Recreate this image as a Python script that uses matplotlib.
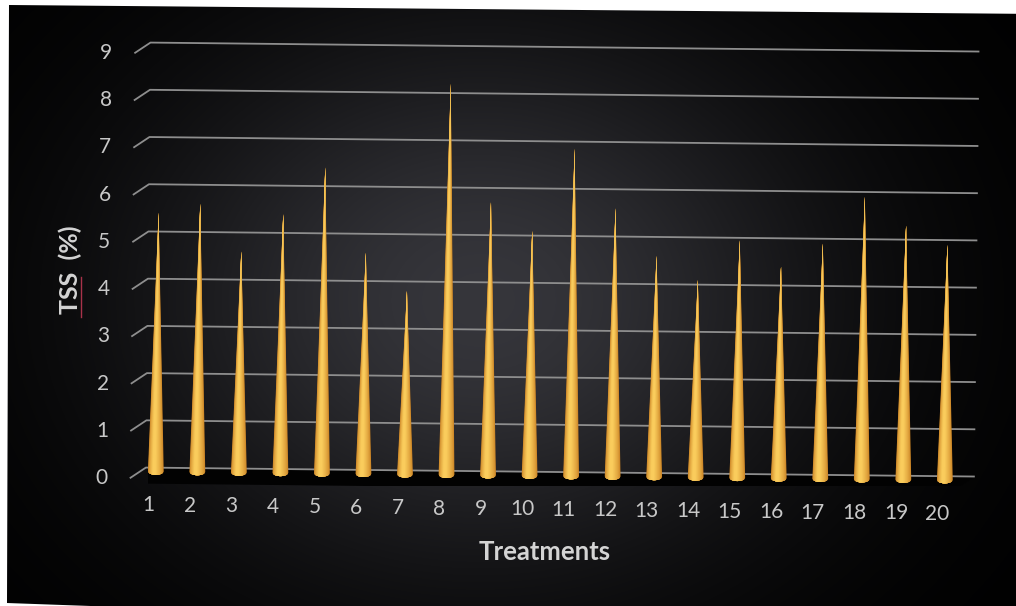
import numpy as np
import matplotlib.pyplot as plt
from matplotlib.patches import Polygon
from matplotlib.transforms import Affine2D

plt.rcParams['font.family'] = ['Lato', 'DejaVu Sans']

# data
treatments = list(range(1, 21))
tss = [5.4, 5.6, 4.6, 5.4, 6.4, 4.6, 3.8, 8.2, 5.7, 5.1,
       6.85, 5.6, 4.6, 4.1, 4.95, 4.4, 4.9, 5.9, 5.3, 4.9]
y_ticks = list(range(0, 10))

W, H = 1016, 606
fig = plt.figure(figsize=(W / 100, H / 100), dpi=100)
fig.patch.set_facecolor('white')

# dark slide background with a soft glow, slightly skewed like a scan
bg = fig.add_axes([0, 0, 1, 1])
bg.set_xlim(0, W)
bg.set_ylim(H, 0)
bg.axis('off')
yy, xx = np.mgrid[0:H, 0:W]
glow = 0.21 * np.exp(-(((xx - 480) / 340.0) ** 2 + ((yy - 300) / 270.0) ** 2))
img = np.dstack([glow, glow, glow * 1.1])
frame = Polygon([(9, 5), (1040, 14), (1040, 640), (7, 603)], closed=True,
                transform=bg.transData, facecolor='none', edgecolor='none')
bg.add_patch(frame)
im = bg.imshow(np.clip(img, 0, 1), extent=(0, W, H, 0), interpolation='bilinear')
im.set_clip_path(frame)

ax = fig.add_axes([0.1457, 0.1977, 0.8159, 0.7325])
ax.set_xlim(0.76, 20.72)
ax.set_ylim(-0.3, 9.1)
ax.axis('off')
ax.patch.set_alpha(0)

# small tilt of the whole plot (scanned page)
rot = Affine2D().rotate_deg_around(560, H - 272, -0.62)
tr = ax.transData + rot

# floor
ax.add_patch(Polygon([(0.375, -0.23), (0.76, 0), (20.72, 0), (20.34, -0.23),
                      (20.34, -0.34), (0.375, -0.34)], closed=True,
                     facecolor='#020202', edgecolor='none', transform=tr, zorder=1))

# back wall gridlines with the 3D depth stub on the left
for v in y_ticks:
    ax.plot([0.375, 0.76, 20.72], [v - 0.23, v, v], color='#8e8e8e', lw=1.3,
            transform=tr, clip_on=False, solid_capstyle='butt', zorder=2)
    ax.text(-0.155, v - 0.23, str(v), transform=tr, ha='right', va='center',
            color='#c8c8c8', fontsize=15, zorder=3)

# cones: nested layers, darker outside, bright band just left of centre
dark = np.array([0.80, 0.52, 0.15])
light = np.array([0.98, 0.80, 0.36])
hw = 0.19
e = 0.07
base = -0.08
n_layers = 14
for x, v in zip(treatments, tss):
    for j in range(n_layers):
        f = j / (n_layers - 1)
        s = 1.0 - 0.8 * f
        c = -0.25 * hw * (1 - s)
        col = dark + (light - dark) * f ** 0.7
        xs = np.linspace(c - s * hw, c + s * hw, 20)
        ys = base - e * np.sqrt(np.clip(1 - (xs / hw) ** 2, 0, 1))
        pts = list(zip(x + xs, ys)) + [(x, v)]
        ax.add_patch(Polygon(pts, closed=True, facecolor=col, edgecolor='none',
                             transform=tr, zorder=4))
    ax.text(x - 0.17, -0.8, str(x), transform=tr, ha='center', va='center',
            color='#c8c8c8', fontsize=15, zorder=3)

fig.text(545 / W, 1 - 552 / H, 'Treatments', ha='center', va='center',
         color='#d4d4d4', fontsize=18.5, fontweight='bold')
fig.text(70 / W, 1 - 270 / H, 'TSS  (%)', ha='center', va='center', rotation=90,
         color='#d4d4d4', fontsize=18, fontweight='bold')
# spell-check squiggle under "TSS"
fig.add_artist(plt.Line2D([81 / W, 81 / W], [1 - 277 / H, 1 - 317 / H],
                          color='#a8324a', lw=1.0))

fig.savefig('out.png', dpi=100, facecolor=fig.get_facecolor())
